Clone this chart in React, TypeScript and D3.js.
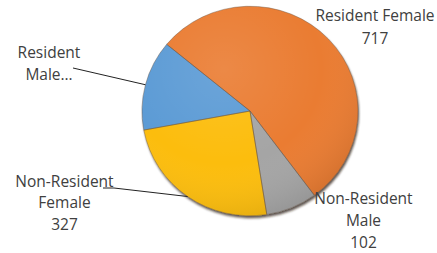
import { useEffect, useRef } from 'react'
import * as d3 from 'd3'

const W = 437, H = 253
const CX = 250, CY = 111
const R = 108, SY = 0.97
const START = (259.5 * Math.PI) / 180

const categories = ['Resident Male', 'Resident Female', 'Non-Resident Male', 'Non-Resident Female']
const values = [185, 717, 102, 327]
const colors = ['#5B9BD5', '#EA7C31', '#A5A5A5', '#FCBD0B']
// label text as shown in the chart (Resident Male is truncated, no value shown)
const labelLines = [
  ['Resident', 'Male…'],
  ['Resident Female', '717'],
  ['Non-Resident', 'Male', '102'],
  ['Non-Resident', 'Female', '327'],
]

// label placement
const labelPos = [
  { x: 49, y: [58, 80] },
  { x: 375, y: [21, 44] },
  { x: 363.5, y: [204, 226, 248] },
  { x: 64.5, y: [187, 208, 230] },
]
// leader lines: index -> label end points
const leaders: Record<number, [number, number][]> = {
  0: [[73, 68]],
  3: [[114, 188], [103, 188]],
}

export default function App() {
  const ref = useRef<SVGSVGElement>(null)

  useEffect(() => {
    if (!ref.current) return
    const svg = d3.select(ref.current)
    svg.selectAll('*').remove()

    const defs = svg.append('defs')
    const f = defs.append('filter').attr('id', 'shadow')
      .attr('x', '-10%').attr('y', '-10%').attr('width', '120%').attr('height', '125%')
    f.append('feDropShadow').attr('dx', 1).attr('dy', 2.5).attr('stdDeviation', 1.2)
      .attr('flood-color', '#2a1a08').attr('flood-opacity', 0.75)

    const rg = defs.append('radialGradient').attr('id', 'shade')
      .attr('cx', '38%').attr('cy', '30%').attr('r', '75%')
    rg.append('stop').attr('offset', '0%').attr('stop-color', '#fff').attr('stop-opacity', 0.1)
    rg.append('stop').attr('offset', '60%').attr('stop-color', '#fff').attr('stop-opacity', 0)
    rg.append('stop').attr('offset', '100%').attr('stop-color', '#000').attr('stop-opacity', 0.1)

    const pie = d3.pie<number>().sort(null).startAngle(START).endAngle(START + 2 * Math.PI)
    const arcs = pie(values)
    const arc = d3.arc<d3.PieArcDatum<number>>().innerRadius(0).outerRadius(R)

    const g = svg.append('g').attr('transform', `translate(${CX},${CY}) scale(1,${SY})`)
    const pieG = g.append('g').attr('filter', 'url(#shadow)')
    pieG.selectAll('path.slice').data(arcs).join('path')
      .attr('class', 'slice')
      .attr('d', arc)
      .attr('fill', (_, i) => colors[i])
    g.append('circle').attr('r', R).attr('fill', 'url(#shade)')
    g.selectAll('path.edge').data(arcs).join('path')
      .attr('class', 'edge')
      .attr('d', arc)
      .attr('fill', 'none')
      .attr('stroke', '#6b5a4a').attr('stroke-opacity', 0.55).attr('stroke-width', 0.8)

    // leader lines
    arcs.forEach((a, i) => {
      const pts = leaders[i]
      if (!pts) return
      const mid = (a.startAngle + a.endAngle) / 2
      const p0: [number, number] = [CX + Math.sin(mid) * R, CY - Math.cos(mid) * R * SY]
      svg.append('path')
        .attr('d', d3.line()([p0, ...pts]))
        .attr('fill', 'none').attr('stroke', '#222').attr('stroke-width', 1)
    })

    // labels
    labelLines.forEach((lines, i) => {
      const t = svg.append('text')
        .attr('text-anchor', 'middle')
        .attr('font-family', '"Open Sans", "Noto Sans", sans-serif')
        .attr('font-size', 15.5)
        .attr('fill', '#404040')
      lines.forEach((s, j) => {
        t.append('tspan').attr('x', labelPos[i].x).attr('y', labelPos[i].y[j]).text(s)
      })
      t.attr('data-category', categories[i])
    })
  }, [])

  return (
    <svg ref={ref} width={W} height={H}
      style={{ position: 'absolute', left: 0, top: 0, background: '#fff' }} />
  )
}
